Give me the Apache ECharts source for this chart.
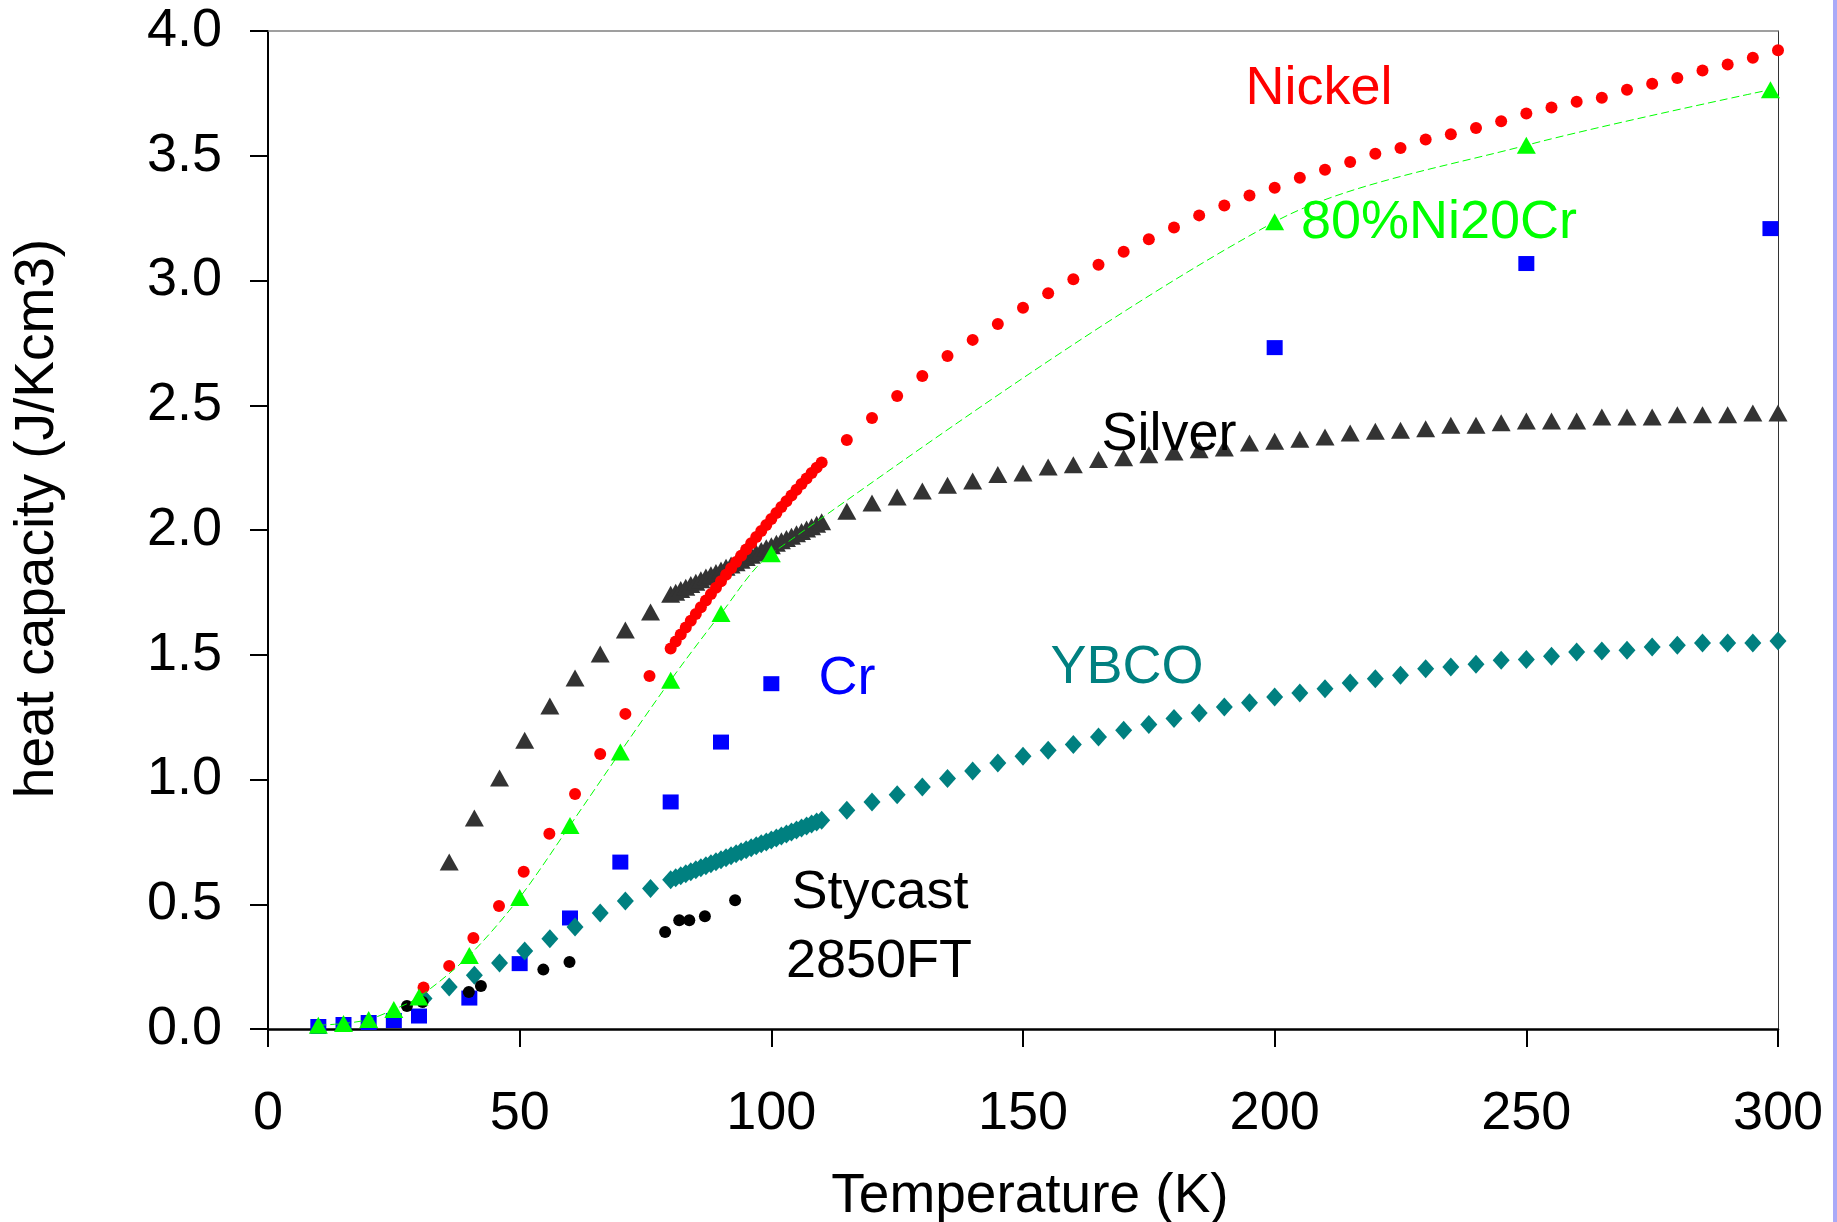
<!DOCTYPE html>
<html>
<head>
<meta charset="utf-8">
<script src="https://cdn.jsdelivr.net/npm/echarts@6/dist/echarts.min.js"></script>
<style>
  html, body { margin: 0; padding: 0; background: #fff; }
  #chart { width: 1837px; height: 1222px; }
</style>
</head>
<body>
<div id="chart"></div>
<script>
// x axis ticks
const tempTicks = [0, 50, 100, 150, 200, 250, 300]
const heatTicks = [0, 0.5, 1.0, 1.5, 2.0, 2.5, 3.0, 3.5, 4.0]

// Nickel (red circles)
const nickelT = [30.9, 36, 40.8, 45.9, 50.8, 55.9, 61, 66, 71, 75.8,
  80, 81, 82, 83, 84, 85, 86, 87, 88, 89, 90, 91, 92, 93, 94, 95, 96, 97, 98, 99, 100,
  101, 102, 103, 104, 105, 106, 107, 108, 109, 110,
  115, 120, 125, 130, 135, 140, 145, 150, 155, 160, 165, 170, 175, 180, 185, 190, 195, 200,
  205, 210, 215, 220, 225, 230, 235, 240, 245, 250, 255, 260, 265, 270, 275, 280, 285, 290, 295, 300]
const nickelC = [0.166, 0.253, 0.365, 0.493, 0.630, 0.783, 0.942, 1.102, 1.263, 1.415,
  1.525, 1.553, 1.581, 1.609, 1.636, 1.663, 1.690, 1.717, 1.743, 1.769, 1.795, 1.821, 1.847, 1.872, 1.897, 1.922, 1.947, 1.972, 1.996, 2.020, 2.044,
  2.068, 2.092, 2.115, 2.138, 2.161, 2.184, 2.206, 2.228, 2.250, 2.271,
  2.361, 2.449, 2.537, 2.617, 2.697, 2.762, 2.826, 2.891, 2.949, 3.005, 3.063, 3.115, 3.165, 3.212, 3.261, 3.301, 3.341, 3.372,
  3.412, 3.444, 3.475, 3.508, 3.531, 3.565, 3.586, 3.611, 3.638, 3.669, 3.693, 3.716, 3.732, 3.765, 3.789, 3.812, 3.842, 3.866, 3.893, 3.923]

// Silver (dark triangles)
const silverT = [36, 41, 46, 51, 56, 61, 66, 71, 76,
  80, 81, 82, 83, 84, 85, 86, 87, 88, 89, 90, 91, 92, 93, 94, 95, 96, 97, 98, 99, 100,
  101, 102, 103, 104, 105, 106, 107, 108, 109, 110,
  115, 120, 125, 130, 135, 140, 145, 150, 155, 160, 165, 170, 175, 180, 185, 190, 195, 200,
  205, 210, 215, 220, 225, 230, 235, 240, 245, 250, 255, 260, 265, 270, 275, 280, 285, 290, 295, 300]
const silverC = [0.669, 0.846, 1.006, 1.157, 1.295, 1.407, 1.503, 1.599, 1.671,
  1.742, 1.751, 1.762, 1.771, 1.782, 1.791, 1.801, 1.812, 1.821, 1.830, 1.840, 1.851, 1.860, 1.869, 1.879, 1.890, 1.899, 1.908, 1.918, 1.929, 1.937,
  1.947, 1.957, 1.966, 1.975, 1.985, 1.994, 2.004, 2.013, 2.023, 2.033,
  2.075, 2.108, 2.132, 2.156, 2.179, 2.196, 2.222, 2.228, 2.253, 2.262, 2.283, 2.290, 2.302, 2.313, 2.322, 2.329, 2.349, 2.356,
  2.364, 2.373, 2.389, 2.396, 2.400, 2.406, 2.420, 2.420, 2.430, 2.437, 2.437, 2.437, 2.453, 2.453, 2.453, 2.462, 2.462, 2.462, 2.469, 2.469]

// Cr (blue squares)
const crT = [10, 15, 20, 25, 30, 40, 50, 60, 70, 80, 90, 100, 200, 250, 298.5]
const crC = [0.010, 0.018, 0.026, 0.034, 0.052, 0.124, 0.262, 0.445, 0.669, 0.910, 1.150, 1.384, 2.731, 3.068, 3.208]

// 80%Ni20Cr (green triangles, dashed line)
const nicrT = [10, 15, 20, 25, 30, 40, 50, 60, 70, 80, 90, 100, 200, 250, 298.5]
const nicrC = [0.015, 0.022, 0.038, 0.078, 0.128, 0.295, 0.527, 0.816, 1.110, 1.398, 1.665, 1.905, 3.235, 3.542, 3.765]

// YBCO (teal diamonds)
const ybcoT = [31, 36, 41, 46, 51, 56, 61, 66, 71, 76,
  80, 81, 82, 83, 84, 85, 86, 87, 88, 89, 90, 91, 92, 93, 94, 95, 96, 97, 98, 99, 100,
  101, 102, 103, 104, 105, 106, 107, 108, 109, 110,
  115, 120, 125, 130, 135, 140, 145, 150, 155, 160, 165, 170, 175, 180, 185, 190, 195, 200,
  205, 210, 215, 220, 225, 230, 235, 240, 245, 250, 255, 260, 265, 270, 275, 280, 285, 290, 295, 300]
const ybcoC = [0.122, 0.168, 0.215, 0.265, 0.313, 0.362, 0.409, 0.465, 0.513, 0.563,
  0.598, 0.606, 0.614, 0.622, 0.630, 0.638, 0.646, 0.654, 0.662, 0.670, 0.678, 0.686, 0.694, 0.702, 0.710, 0.718, 0.726, 0.734, 0.742, 0.750, 0.758,
  0.766, 0.774, 0.782, 0.790, 0.798, 0.806, 0.814, 0.822, 0.830, 0.837,
  0.877, 0.910, 0.939, 0.970, 1.004, 1.034, 1.066, 1.093, 1.117, 1.140, 1.170, 1.197, 1.220, 1.244, 1.267, 1.291, 1.308, 1.331,
  1.347, 1.364, 1.387, 1.404, 1.418, 1.444, 1.451, 1.462, 1.478, 1.481, 1.494, 1.511, 1.515, 1.518, 1.531, 1.538, 1.547, 1.547, 1.547, 1.555]

// Stycast 2850FT (black dots)
const stycastT = [27.6, 30.7, 39.9, 42.3, 54.7, 59.9, 78.9, 81.7, 83.7, 86.8, 92.8]
const stycastC = [0.092, 0.108, 0.148, 0.172, 0.238, 0.269, 0.389, 0.436, 0.436, 0.452, 0.516]

const zip = (xs, ys) => xs.map((x, i) => [x, ys[i]])
const font = "'Liberation Sans', Arial, sans-serif"

const chart = echarts.init(document.getElementById('chart'))

// text labels inside the plot
function tag(text, x, y, color) {
  return {
    type: 'text',
    x,
    y,
    style: {
      text,
      fill: color,
      font: "54px 'Liberation Sans', Arial, sans-serif",
      align: 'center',
      verticalAlign: 'middle'
    },
    z: 100
  }
}

chart.setOption({
  animation: false,
  backgroundColor: '#fff',
  grid: { left: 268, right: 59, top: 31, bottom: 193, outerBoundsMode: 'none' },
  xAxis: [
    {
      type: 'value',
      min: tempTicks[0],
      max: tempTicks[tempTicks.length - 1],
      interval: 50,
      name: 'Temperature (K)',
      nameLocation: 'middle',
      nameGap: 140,
      nameTextStyle: { color: '#000', fontSize: 55, fontFamily: font, padding: [0, 0, 0, 14] },
      axisLine: { show: true, onZero: false, lineStyle: { color: '#000', width: 2.5 } },
      axisTick: { show: true, length: 18, lineStyle: { color: '#000', width: 2 } },
      axisLabel: { margin: 58, color: '#000', fontSize: 54, fontFamily: font },
      splitLine: { show: false }
    },
    {
      type: 'value',
      position: 'top',
      min: 0,
      max: 300,
      axisLine: { show: true, onZero: false, lineStyle: { color: '#808080', width: 1.5 } },
      axisTick: { show: false },
      axisLabel: { show: false },
      splitLine: { show: false }
    }
  ],
  yAxis: [
    {
      type: 'value',
      min: heatTicks[0],
      max: heatTicks[heatTicks.length - 1],
      interval: 0.5,
      name: 'heat capacity (J/Kcm3)',
      nameLocation: 'middle',
      nameGap: 203,
      nameTextStyle: { color: '#000', fontSize: 55, fontFamily: font, padding: [0, 0, 0, 23] },
      axisLine: { show: true, onZero: false, lineStyle: { color: '#000', width: 2 } },
      axisTick: { show: true, length: 18, lineStyle: { color: '#000', width: 2 } },
      axisLabel: {
        margin: 46,
        color: '#000',
        fontSize: 54,
        fontFamily: font,
        formatter: v => v.toFixed(1)
      },
      splitLine: { show: false }
    },
    {
      type: 'value',
      position: 'right',
      min: 0,
      max: 4,
      axisLine: { show: true, onZero: false, lineStyle: { color: '#333', width: 1 } },
      axisTick: { show: false },
      axisLabel: { show: false },
      splitLine: { show: false }
    }
  ],
  series: [
    {
      name: 'Silver',
      type: 'scatter',
      symbol: 'triangle',
      symbolSize: [19, 17],
      itemStyle: { color: '#333333', opacity: 1 },
      data: zip(silverT, silverC)
    },
    {
      name: 'Cr',
      type: 'scatter',
      symbol: 'rect',
      symbolSize: [16, 15],
      itemStyle: { color: '#0000ff', opacity: 1 },
      data: zip(crT, crC)
    },
    {
      name: 'YBCO',
      type: 'scatter',
      symbol: 'diamond',
      symbolSize: [17, 19],
      itemStyle: { color: '#008080', opacity: 1 },
      data: zip(ybcoT, ybcoC)
    },
    {
      name: '80%Ni20Cr',
      type: 'line',
      smooth: 0.3,
      symbol: 'triangle',
      symbolSize: [19, 17],
      showSymbol: true,
      itemStyle: { color: '#00ff00', opacity: 1 },
      lineStyle: { color: '#00ff00', width: 1, type: [8, 4] },
      data: zip(nicrT, nicrC)
    },
    {
      name: 'Nickel',
      type: 'scatter',
      symbol: 'circle',
      symbolSize: 12,
      itemStyle: { color: '#ff0000', opacity: 1 },
      data: zip(nickelT, nickelC)
    },
    {
      name: 'Stycast 2850FT',
      type: 'scatter',
      symbol: 'circle',
      symbolSize: 12,
      itemStyle: { color: '#000000', opacity: 1 },
      data: zip(stycastT, stycastC)
    }
  ],
  graphic: [
    tag('Nickel', 1319, 89, '#ff0000'),
    tag('80%Ni20Cr', 1439, 223, '#00ff00'),
    tag('Silver', 1169, 435, '#000000'),
    tag('Cr', 847, 679, '#0000ff'),
    tag('YBCO', 1127, 668, '#008080'),
    tag('Stycast', 880, 893, '#000000'),
    tag('2850FT', 879, 962, '#000000'),
    {
      type: 'rect',
      shape: { x: 1833, y: 0, width: 4, height: 1222 },
      style: { fill: '#aaaaf8' }
    }
  ]
})
</script>
</body>
</html>
